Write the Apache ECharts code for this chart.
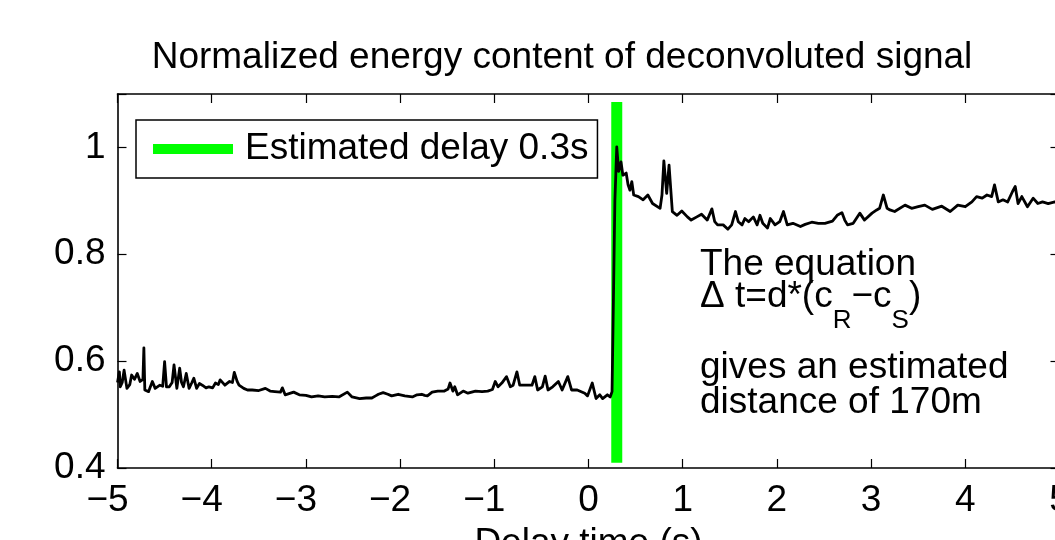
<!DOCTYPE html>
<html>
<head>
<meta charset="utf-8">
<script src="https://cdn.jsdelivr.net/npm/echarts@6/dist/echarts.min.js"></script>
<style>
html,body{margin:0;padding:0;background:#fff;}
#c{width:1055px;height:540px;}
</style>
</head>
<body>
<div id="c"></div>
<script>
const titleText = 'Normalized energy content of deconvoluted signal';
const xAxisName = 'Delay time (s)';
const legendName = 'Estimated delay 0.3s';
const delayX = [0.3, 0.3];
const delayY = [0.41, 1.085];
const annotationLines = ['The equation', 'gives an estimated', 'distance of 170m'];

const timeX = [
-5.00,-4.98,-4.97,-4.95,-4.93,-4.90,-4.87,-4.85,-4.82,-4.79,-4.76,-4.73,-4.72,-4.71,-4.67,-4.63,-4.60,-4.55,-4.52,-4.50,
-4.48,-4.45,-4.42,-4.40,-4.37,-4.34,-4.32,-4.30,-4.27,-4.24,-4.21,-4.19,-4.16,-4.13,-4.10,-4.06,-4.03,-3.99,-3.96,-3.93,
-3.91,-3.86,-3.81,-3.78,-3.76,-3.73,-3.71,-3.66,-3.62,-3.57,-3.50,-3.43,-3.38,-3.33,-3.27,-3.25,-3.22,-3.13,-3.07,-3.00,
-2.94,-2.87,-2.80,-2.72,-2.65,-2.56,-2.51,-2.43,-2.36,-2.30,-2.26,-2.23,-2.18,-2.13,-2.09,-2.02,-1.95,-1.87,-1.82,-1.77,
-1.74,-1.71,-1.66,-1.60,-1.53,-1.49,-1.47,-1.44,-1.42,-1.39,-1.33,-1.28,-1.20,-1.13,-1.07,-1.02,-0.99,-0.96,-0.92,-0.87,
-0.83,-0.80,-0.76,-0.73,-0.65,-0.60,-0.57,-0.54,-0.49,-0.46,-0.43,-0.38,-0.32,-0.28,-0.22,-0.18,-0.12,-0.04,-0.01,0.04,
0.08,0.12,0.15,0.20,0.23,0.25,0.265,0.28,0.29,0.30,0.32,0.345,0.365,0.40,0.42,0.44,0.46,0.48,0.53,0.58,
0.63,0.68,0.76,0.78,0.80,0.83,0.855,0.89,0.94,0.99,1.05,1.09,1.15,1.20,1.26,1.31,1.34,1.37,1.43,1.48,
1.52,1.56,1.59,1.63,1.66,1.70,1.75,1.79,1.82,1.85,1.90,1.93,1.98,2.03,2.07,2.11,2.17,2.25,2.30,2.37,
2.44,2.51,2.59,2.64,2.69,2.72,2.75,2.81,2.88,2.93,3.01,3.06,3.09,3.13,3.17,3.20,3.25,3.36,3.43,3.50,
3.57,3.65,3.75,3.84,3.92,4.00,4.07,4.12,4.18,4.23,4.28,4.31,4.35,4.40,4.45,4.50,4.53,4.56,4.60,4.66,
4.72,4.77,4.82,4.88,4.95,5.00
];
const energyY = [
0.560,0.580,0.552,0.560,0.583,0.549,0.556,0.574,0.566,0.577,0.562,0.566,0.625,0.546,0.543,0.562,0.549,0.555,0.553,0.599,
0.552,0.552,0.560,0.593,0.549,0.587,0.560,0.552,0.577,0.549,0.560,0.568,0.549,0.558,0.555,0.550,0.552,0.550,0.559,0.556,
0.565,0.555,0.562,0.560,0.579,0.562,0.555,0.549,0.546,0.546,0.545,0.549,0.544,0.543,0.542,0.550,0.537,0.542,0.537,0.536,
0.533,0.535,0.533,0.534,0.533,0.542,0.533,0.530,0.531,0.531,0.535,0.538,0.541,0.538,0.535,0.538,0.535,0.533,0.537,0.538,
0.536,0.535,0.542,0.544,0.544,0.548,0.559,0.544,0.552,0.537,0.544,0.540,0.544,0.543,0.544,0.547,0.562,0.552,0.559,0.571,
0.552,0.555,0.580,0.555,0.555,0.555,0.571,0.546,0.552,0.572,0.546,0.552,0.562,0.546,0.571,0.546,0.546,0.540,0.535,0.559,
0.530,0.537,0.530,0.537,0.533,0.543,0.720,0.900,0.950,1.001,0.955,0.973,0.948,0.952,0.930,0.920,0.936,0.911,0.908,0.902,
0.911,0.895,0.886,0.911,0.975,0.914,0.967,0.880,0.873,0.881,0.870,0.864,0.870,0.875,0.864,0.885,0.861,0.855,0.855,0.847,
0.855,0.880,0.861,0.855,0.867,0.861,0.870,0.855,0.873,0.858,0.849,0.867,0.855,0.861,0.880,0.855,0.858,0.852,0.856,0.860,
0.858,0.858,0.862,0.873,0.878,0.864,0.855,0.858,0.877,0.864,0.877,0.883,0.886,0.911,0.886,0.883,0.880,0.892,0.886,0.889,
0.892,0.884,0.890,0.880,0.892,0.889,0.898,0.908,0.905,0.911,0.908,0.930,0.898,0.902,0.898,0.917,0.927,0.895,0.908,0.889,
0.905,0.895,0.898,0.895,0.898,0.895
];

const FONT = "'Liberation Sans', Arial, Helvetica, sans-serif";
const FS = 37;

const chart = echarts.init(document.getElementById('c'), null, {renderer: 'canvas'});

function fmtX(v) {
  if (v < 0) return '{n|' + '\u2212' + Math.abs(v) + '}';
  return '{p|' + v + '}';
}
function fmtY(v) {
  const r = Math.round(v * 10) / 10;
  if (Math.abs(r - 1.1) < 1e-6) return '';
  return String(r);
}

const axisLineStyle = {color: '#000', width: 1.6};
const tickStyle = {show: true, inside: true, length: 9, lineStyle: {color: '#000', width: 1.2}};

const option = {
  animation: false,
  backgroundColor: '#fff',
  title: {
    text: titleText,
    left: 557,
    top: 34,
    textAlign: 'center',
    textStyle: {fontFamily: FONT, fontSize: FS, fontWeight: 'normal', color: '#000'}
  },
  legend: {
    show: true,
    data: [legendName],
    left: 136,
    top: 120,
    orient: 'horizontal',
    icon: 'rect',
    itemWidth: 80,
    itemHeight: 10,
    padding: [7, 9, 7, 17],
    backgroundColor: '#fff',
    borderColor: '#000',
    borderWidth: 1.5,
    borderRadius: 0,
    selectedMode: false,
    textStyle: {fontFamily: FONT, fontSize: FS, color: '#000', lineHeight: 44, padding: [0, 0, 0, 7]}
  },
  grid: {
    left: 117.5,
    top: 94,
    width: 942,
    height: 374,
    containLabel: false,
    outerBoundsMode: 'none',
    show: false
  },
  xAxis: [
    {
      type: 'value', position: 'bottom', min: -5, max: 5, interval: 1,
      axisLine: {show: true, onZero: false, lineStyle: axisLineStyle},
      axisTick: tickStyle,
      splitLine: {show: false},
      axisLabel: {
        margin: 14,
        formatter: fmtX,
        rich: {
          n: {fontFamily: FONT, fontSize: FS, color: '#000', padding: [0, 20, 0, 0]},
          p: {fontFamily: FONT, fontSize: FS, color: '#000'}
        }
      },
      name: xAxisName,
      nameLocation: 'middle',
      nameGap: 57,
      nameTextStyle: {fontFamily: FONT, fontSize: FS, color: '#000', verticalAlign: 'top'}
    },
    {
      type: 'value', position: 'top', min: -5, max: 5, interval: 1,
      axisLine: {show: true, onZero: false, lineStyle: axisLineStyle},
      axisTick: tickStyle,
      splitLine: {show: false},
      axisLabel: {show: false}
    }
  ],
  yAxis: [
    {
      type: 'value', position: 'left', min: 0.4, max: 1.1, interval: 0.2,
      axisLine: {show: true, onZero: false, lineStyle: axisLineStyle},
      axisTick: tickStyle,
      splitLine: {show: false},
      axisLabel: {margin: 12, formatter: fmtY, fontFamily: FONT, fontSize: FS, color: '#000'}
    },
    {
      type: 'value', position: 'right', min: 0.4, max: 1.1, interval: 0.2,
      axisLine: {show: true, onZero: false, lineStyle: axisLineStyle},
      axisTick: tickStyle,
      splitLine: {show: false},
      axisLabel: {show: false}
    }
  ],
  series: [
    {
      name: legendName,
      type: 'line',
      xAxisIndex: 0, yAxisIndex: 0,
      data: delayX.map((x, i) => [x, delayY[i]]),
      showSymbol: false,
      symbol: 'none',
      color: '#00ff00',
      lineStyle: {color: '#00ff00', width: 11, cap: 'butt'},
      z: 2
    },
    {
      name: 'energy',
      type: 'line',
      xAxisIndex: 0, yAxisIndex: 0,
      data: timeX.map((x, i) => [x, energyY[i]]),
      showSymbol: false,
      symbol: 'none',
      color: '#000',
      lineStyle: {color: '#000', width: 2.8, join: 'round'},
      z: 3
    }
  ],
  graphic: [
    {type: 'text', x: 700, y: 264.5, style: {text: annotationLines[0], font: FS + 'px ' + FONT, fill: '#000', verticalAlign: 'middle'}},
    {type: 'text', x: 700, y: 306, style: {
      text: '{a|\u0394 t=d*(c}{s|R}{a|\u2212c}{s|S}{a|)}',
      verticalAlign: 'middle',
      rich: {
        a: {fontFamily: FONT, fontSize: FS, fill: '#000', color: '#000', lineHeight: 55, verticalAlign: 'top'},
        s: {fontFamily: FONT, fontSize: 26, fill: '#000', color: '#000', lineHeight: 55, verticalAlign: 'bottom'}
      }
    }},
    {type: 'text', x: 700, y: 367.5, style: {text: annotationLines[1], font: FS + 'px ' + FONT, fill: '#000', verticalAlign: 'middle'}},
    {type: 'text', x: 700, y: 402.5, style: {text: annotationLines[2], font: FS + 'px ' + FONT, fill: '#000', verticalAlign: 'middle'}}
  ]
};
chart.setOption(option);
</script>
</body>
</html>
